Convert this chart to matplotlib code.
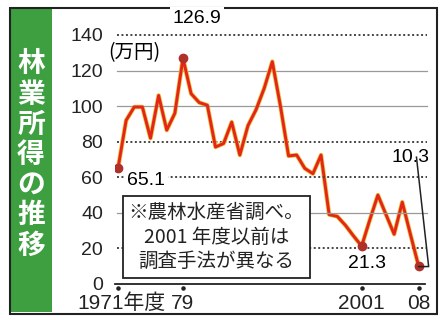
import matplotlib
matplotlib.use("Agg")
import matplotlib.pyplot as plt
from matplotlib.patches import Rectangle
from matplotlib.transforms import ScaledTranslation

# Forestry income per household (10k yen), fiscal years 1971-2008
years = list(range(1971, 2009))
income = [65.1, 92, 99.5, 99.5, 82, 106, 86.5, 96, 126.9, 107,
          102, 100.5, 77, 79, 91, 72.5, 89, 98, 110, 125,
          100, 72, 72.5, 65, 62, 72.5, 39, 38, 33, 27,
          21.3, 36, 50, 39, 28, 46, 28, 10.3]
marked_years = [1971, 1979, 2001, 2008]
tick_years = [1971, 1979, 2001, 2008]
tick_labels = ["1971年度", "79", "2001", "08"]
y_ticks = [0, 20, 40, 60, 80, 100, 120, 140]

title = "林業所得の推移"
unit = "(万円)"
note = "※農林水産省調べ。\n2001 年度以前は\n調査手法が異なる"

jp = ["Noto Sans CJK JP", "DejaVu Sans"]
num = ["Liberation Sans", "Noto Sans CJK JP"]
green = "#3d9f3f"
red = "#e3261c"

fig = plt.figure(figsize=(4.4, 3.2), dpi=100)
ax = fig.add_axes([115 / 440, 36 / 320, 310 / 440, 261.5 / 320])

ax.set_xlim(1970.63, 2008.8)
ax.set_ylim(0, 147)
for s in ["top", "right", "left"]:
    ax.spines[s].set_visible(False)
ax.spines["bottom"].set_color("#222222")
ax.spines["bottom"].set_linewidth(1.3)

# dotted grid lines (some variants, to see which ones show)
styles = {140: ("dot", 3.5), 120: ("solid", 2), 100: ("solid", 3.5),
          80: ("dot", 2), 60: ("dot", 7), 40: ("solid", 7), 20: ("dot", 3.5)}
for v in y_ticks[1:]:
    kind, z = styles[v]
    if kind == "dot":
        ax.plot([1970.9, 2009.1], [v, v], color="#444444", lw=1.4,
                linestyle=(0, (1, 1.3)), zorder=z, clip_on=False)
    else:
        ax.plot([1970.9, 2009.1], [v, v], color="#999999", lw=0.9,
                zorder=z, clip_on=False)

# the income line
ax.plot(years, income, color="#f0c238", lw=3.2, zorder=3,
        solid_joinstyle="round", solid_capstyle="round")
ax.plot(years, income, color=red, lw=2.1, zorder=4,
        solid_joinstyle="round")
mx = [y for y in years if y in marked_years]
my = [income[years.index(y)] for y in mx]
ax.plot(mx, my, "o", ms=6, color="#b0302a", zorder=5)

# ticks
ax.set_yticks(y_ticks)
ax.set_yticklabels([str(v) for v in y_ticks], family=num, fontsize=14,
                   color="#222222")
ax.set_xticks(tick_years)
ax.set_xticklabels(tick_labels, family=num, fontsize=15, color="#222222")
ax.tick_params(length=0)
ax.tick_params(axis="y", pad=8.5)
ax.tick_params(axis="x", pad=7)
lbl = ax.get_xticklabels()[0]
lbl.set_transform(lbl.get_transform() + ScaledTranslation(3 / 100, 0, fig.dpi_scale_trans))
ax.scatter(tick_years, [-2.3] * len(tick_years), s=5, color="#222222",
           clip_on=False, zorder=5)

ax.text(1969.8, 130, unit, family=jp, fontsize=14, ha="left",
        va="center", clip_on=False, zorder=8)

# value annotations
i = years.index(1979)
ax.annotate(f"{income[i]:.1f}", (years[i], income[i]), xytext=(10, 28.5),
            textcoords="offset points", ha="center", va="center",
            family=num, fontsize=14, zorder=8,
            bbox=dict(boxstyle="square,pad=0.15", fc="white", ec="none"))
i = 0
ax.annotate(f"{income[i]:.1f}", (years[i], income[i]), xytext=(6.5, -9),
            textcoords="offset points", ha="left", va="center",
            family=num, fontsize=14, zorder=8,
            bbox=dict(boxstyle="square,pad=0.15", fc="white", ec="none"))
i = years.index(2001)
ax.annotate(f"{income[i]:.1f}", (years[i], income[i]), xytext=(3.5, -12.5),
            textcoords="offset points", ha="center", va="center",
            family=num, fontsize=14, zorder=8)
i = len(years) - 1
xe, ye = years[i], income[i]
ax.annotate(f"{ye:.1f}", (xe, ye), xytext=(-5.5, 78),
            textcoords="offset points", ha="center", va="center",
            family=num, fontsize=14, zorder=8,
            bbox=dict(boxstyle="square,pad=0.15", fc="white", ec="none"))
ax.plot([xe - 0.25, xe + 1.25, xe], [ye + 61, ye - 0.5, ye - 0.5],
        color="#222222", lw=1.1, clip_on=False, zorder=8)

# note box
ax.text(1983.1, 26.4, note, family=jp, fontsize=14, ha="center",
        va="center", linespacing=1.22, color="#222222", zorder=8,
        bbox=dict(boxstyle="square,pad=0.3", fc="white", ec="#222222", lw=1.3))

# left green title bar and outer frame
fig.add_artist(Rectangle((10 / 440, 8 / 320), 42 / 440, 303 / 320,
                         transform=fig.transFigure, facecolor=green,
                         edgecolor="none", zorder=0))
fig.add_artist(Rectangle((10 / 440, 6 / 320), 427 / 440, 306 / 320,
                         transform=fig.transFigure, facecolor="none",
                         edgecolor="#222222", lw=1.5, zorder=0))
fig.text(31 / 440, 1 - 155 / 320, "\n".join(title), color="white",
         fontsize=20, fontweight="bold", family=jp, ha="center",
         va="center", linespacing=1.1)

fig.savefig("out.png", dpi=100)
